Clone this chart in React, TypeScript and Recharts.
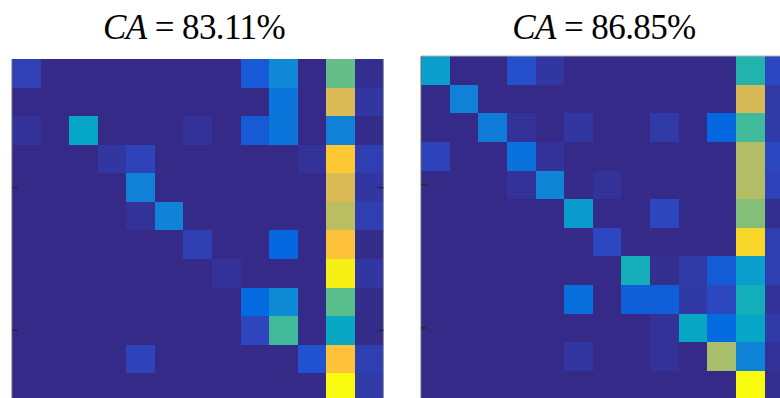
import { BarChart, Bar, Cell, XAxis, YAxis, ScatterChart, Scatter, ReferenceLine } from 'recharts'

// class labels shared by rows (true) and columns (predicted)
const classes = ['1', '2', '3', '4', '5', '6', '7', '8', '9', '10', '11', '12', '13']

// normalised cell intensities, one row per true class
const baselineMatrix = [
  [0.055, 0, 0, 0, 0, 0, 0, 0, 0.117, 0.27, 0, 0.57, 0.01],
  [0, 0, 0, 0, 0, 0, 0, 0, 0, 0.2, 0, 0.755, 0.03],
  [0.02, 0, 0.385, 0, 0, 0, 0.02, 0, 0.117, 0.2, 0, 0.24, 0.005],
  [0, 0, 0, 0.03, 0.06, 0, 0, 0, 0, 0, 0.02, 0.86, 0.05],
  [0, 0, 0, 0, 0.24, 0, 0, 0, 0, 0, 0, 0.755, 0.03],
  [0, 0, 0, 0, 0.02, 0.25, 0, 0, 0, 0, 0, 0.7, 0.05],
  [0, 0, 0, 0, 0, 0, 0.05, 0, 0, 0.15, 0, 0.84, 0.005],
  [0, 0, 0, 0, 0, 0, 0, 0.02, 0, 0, 0, 0.97, 0.03],
  [0, 0, 0, 0, 0, 0, 0, 0, 0.16, 0.28, 0, 0.555, 0.005],
  [0, 0, 0, 0, 0, 0, 0, 0, 0.065, 0.52, 0, 0.39, 0.005],
  [0, 0, 0, 0, 0.06, 0, 0, 0, 0, 0, 0.1, 0.84, 0.05],
  [0, 0, 0, 0, 0, 0, 0, 0, 0, 0, 0, 1, 0.04],
]

const proposedMatrix = [
  [0.35, 0, 0, 0.09, 0.03, 0, 0, 0, 0, 0, 0, 0.47, 0.07],
  [0, 0.24, 0, 0, 0, 0, 0, 0, 0, 0, 0, 0.75, 0.04],
  [0, 0, 0.22, 0.02, 0, 0.03, 0, 0, 0.04, 0, 0.15, 0.52, 0.04],
  [0.06, 0, 0, 0.19, 0.02, 0, 0, 0, 0, 0, 0, 0.685, 0.07],
  [0, 0, 0, 0.02, 0.26, 0, 0.02, 0, 0, 0, 0, 0.685, 0.06],
  [0, 0, 0, 0, 0, 0.34, 0, 0, 0.065, 0, 0, 0.61, 0.01],
  [0, 0, 0, 0, 0, 0, 0.07, 0, 0, 0, 0, 0.9, 0.05],
  [0, 0, 0, 0, 0, 0, 0, 0.43, 0.01, 0.04, 0.12, 0.35, 0.05],
  [0, 0, 0, 0, 0, 0.18, 0, 0.13, 0.13, 0.035, 0.07, 0.43, 0.02],
  [0, 0, 0, 0, 0, 0, 0, 0, 0.02, 0.39, 0.16, 0.38, 0.04],
  [0, 0, 0, 0, 0, 0.03, 0, 0, 0.02, 0, 0.667, 0.25, 0.02],
  [0, 0, 0, 0, 0, 0, 0, 0, 0, 0, 0, 1, 0.01],
]

const baselineAccuracy = '83.11%'
const proposedAccuracy = '86.85%'

// row ticks sit on the centres of classes 5 and 10
const rowTicks = [4.5, 9.5]

// parula colormap knots, evenly spaced from 0 to 1
const parula = [
  [53, 42, 135], [44, 74, 199], [2, 104, 225], [18, 125, 216], [12, 147, 210],
  [6, 167, 198], [29, 179, 175], [77, 188, 146], [135, 191, 119], [183, 189, 100],
  [225, 185, 82], [255, 195, 55], [245, 222, 33], [249, 251, 14],
]

function parulaColor(v: number) {
  const t = Math.max(0, Math.min(1, v)) * (parula.length - 1)
  const i = Math.min(Math.floor(t), parula.length - 2)
  const f = t - i
  const c = parula[i].map((a, k) => Math.round(a + (parula[i + 1][k] - a) * f))
  return `rgb(${c[0]},${c[1]},${c[2]})`
}

interface MapProps {
  matrix: number[][]
  x: number
  y: number
  cell: number
  topRule?: boolean
}

function ConfusionMap({ matrix, x, y, cell, topRule }: MapProps) {
  const n = classes.length
  const rowKeys = matrix.map((_, i) => `r${i}`)
  // every row is a unit-height segment in a stacked column
  const data = classes.map((cls) => {
    const d: Record<string, string | number> = { cls }
    rowKeys.forEach((k) => { d[k] = 1 })
    return d
  })
  const size = cell * n
  const pad = 4
  const box = { position: 'absolute' as const, left: x - pad, top: y - pad }
  const margin = { top: pad, right: pad, bottom: pad, left: pad }
  const tickLen = 6 / cell
  const tickPoints = rowTicks.map((t) => ({ col: 0, row: t }))

  return (
    <>
      <div style={box}>
        <BarChart
          width={size + pad * 2}
          height={size + pad * 2}
          data={data}
          margin={margin}
          barCategoryGap={0}
          barGap={0}
        >
          <XAxis dataKey="cls" hide />
          <YAxis type="number" domain={[0, n]} reversed hide />
          {rowKeys.map((k, i) => (
            <Bar key={k} dataKey={k} stackId="m" isAnimationActive={false}>
              {matrix[i].map((v, j) => (
                <Cell key={j} fill={parulaColor(v)} shapeRendering="crispEdges" />
              ))}
            </Bar>
          ))}
        </BarChart>
      </div>
      {/* frame and inward ticks, layered above the cells */}
      <div style={box}>
        <ScatterChart width={size + pad * 2} height={size + pad * 2} margin={margin}>
          <XAxis type="number" dataKey="col" domain={[0, n]} hide />
          <YAxis type="number" dataKey="row" domain={[0, n]} reversed hide />
          <Scatter data={tickPoints} fill="none" shape={() => <g />} isAnimationActive={false} />
          <ReferenceLine x={0} stroke="#6e6e6e" />
          <ReferenceLine x={n} stroke="#a0a0a0" />
          {topRule && <ReferenceLine y={0} stroke="#b4b4b4" />}
          {rowTicks.map((t) => (
            <ReferenceLine key={`l${t}`} segment={[{ x: 0, y: t }, { x: tickLen, y: t }]} stroke="#262626" strokeWidth={1.2} />
          ))}
          {rowTicks.map((t) => (
            <ReferenceLine key={`r${t}`} segment={[{ x: n - tickLen, y: t }, { x: n, y: t }]} stroke="#262626" strokeWidth={1.2} />
          ))}
        </ScatterChart>
      </div>
    </>
  )
}

function Title({ value, center }: { value: string; center: number }) {
  return (
    <div
      style={{
        position: 'absolute',
        left: center - 150,
        width: 300,
        top: 10,
        textAlign: 'center',
        fontFamily: '"Liberation Serif", serif',
        fontSize: 35,
        lineHeight: '35px',
        letterSpacing: -0.6,
        color: '#000',
      }}
    >
      <span style={{ fontStyle: 'italic' }}>CA</span> = {value}
    </div>
  )
}

export default function App() {
  return (
    <div style={{ position: 'fixed', left: 0, top: 0, width: 780, height: 398, overflow: 'hidden', background: '#fff' }}>
      <Title value={baselineAccuracy} center={194} />
      <Title value={proposedAccuracy} center={604} />
      <ConfusionMap matrix={baselineMatrix} x={11.7} y={59} cell={28.57} />
      <ConfusionMap matrix={proposedMatrix} x={420.7} y={56.4} cell={28.63} topRule />
    </div>
  )
}
